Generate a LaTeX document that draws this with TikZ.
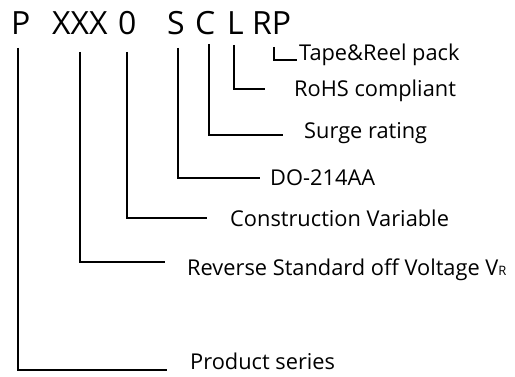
\documentclass[tikz,border=0pt]{standalone}
\usepackage{fontspec}
\setmainfont{Open Sans}
\begin{document}
\begin{tikzpicture}[x=1pt,y=-1pt,
  code/.style={anchor=base west,inner sep=0pt,font=\fontsize{32}{36}\selectfont},
  lab/.style={anchor=base west,inner sep=0pt,font=\fontsize{21.8}{25}\selectfont},
  conn/.style={line width=1.25pt,black}]
\useasboundingbox (0,0) rectangle (515,377);
% code letters
\node[code] (cP) at (11,35) {P};
\node[code] (cX) at (52,35) {XXX};
\node[code] (c0) at (118,35) {0};
\node[code] (cS) at (167,35) {S};
\node[code] (cC) at (195,35) {C};
\node[code] (cL) at (227,35) {L};
\node[code] (cR) at (252,35) {RP};
% labels
\node[lab] (lT) at (299,61) {Tape\&Reel pack};
\node[lab] (lR) at (294,97) {RoHS compliant};
\node[lab] (lS) at (304,139) {Surge rating};
\node[lab] (lD) at (270,186) {DO-214AA};
\node[lab] (lC) at (230,227) {Construction Variable};
\node[lab] (lV) at (187,276) {Reverse Standard off Voltage V{\fontsize{13}{15}\selectfont R}};
\node[lab] (lP) at (190,370) {Product series};
% connector points
\coordinate (aP) at (18,48);  \coordinate (bP) at (167,370);
\coordinate (aX) at (80,52);  \coordinate (bX) at (165,262);
\coordinate (a0) at (127,52); \coordinate (b0) at (207,218);
\coordinate (aS) at (178,48); \coordinate (bS) at (260,178);
\coordinate (aC) at (209,44); \coordinate (bC) at (283,135);
\coordinate (aL) at (234,45); \coordinate (bL) at (265,89);
\coordinate (aR) at (274,47); \coordinate (bR) at (297,60);
\draw[conn] (aP) |- (bP);
\draw[conn] (aX) |- (bX);
\draw[conn] (a0) |- (b0);
\draw[conn] (aS) |- (bS);
\draw[conn] (aC) |- (bC);
\draw[conn] (aL) |- (bL);
\draw[conn] (aR) |- (bR);
\end{tikzpicture}
\end{document}
